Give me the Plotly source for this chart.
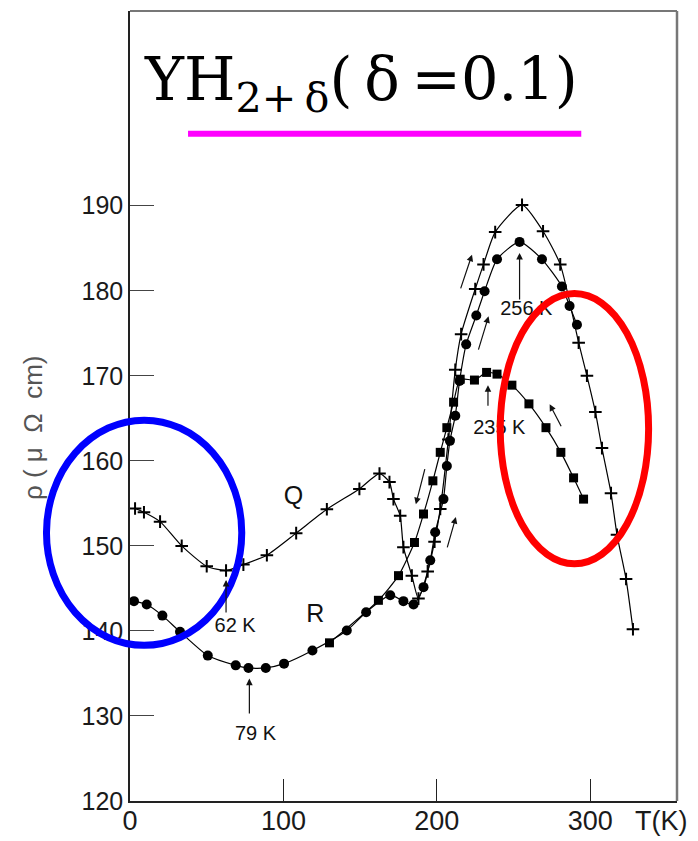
import plotly.graph_objects as go

# ---------------- data ----------------
# Q run (crosses)
q_T = [3.3, 9.1, 19.6, 33.7, 50.0, 62.6, 73.9, 89.2, 108.3, 128.3, 149.5, 162.6,
       169.1, 171.7, 176.1, 178.2, 183.7, 188.0, 194.0, 198.5, 202.2, 207.5, 212.0,
       215.8, 225.0, 230.4, 238.0, 255.5, 269.2, 280.4, 292.4, 297.8, 303.3, 307.6,
       313.5, 317.4, 323.3, 327.8]
q_rho = [154.4, 153.95, 152.85, 150.0, 147.6, 147.1, 147.8, 148.9, 151.5, 154.3, 156.7, 158.5,
         157.5, 155.5, 153.55, 149.85, 146.5, 143.8, 147.0, 150.5, 154.35, 162.5, 170.7,
         174.9, 180.2, 183.1, 186.9, 190.1, 187.0, 183.1, 173.9, 170.0, 165.75, 161.5,
         156.2, 151.3, 146.1, 140.2]

# R run (filled circles)
r_T = [2.6, 10.9, 21.1, 32.6, 50.7, 68.9, 77.2, 88.5, 100.4, 118.9, 141.3, 153.9,
       169.6, 178.2, 184.8, 191.3, 195.7, 198.9, 204.3, 206.5, 208.5, 212.0, 214.8,
       219.1, 225.7, 231.1, 239.2, 253.9, 268.5, 281.5, 286.5, 291.3]
r_rho = [143.5, 143.1, 141.8, 139.9, 137.1, 135.95, 135.65, 135.65, 136.15, 137.7, 140.05, 142.2,
         144.2, 143.5, 143.1, 145.15, 148.3, 151.6, 155.5, 159.4, 162.35, 165.3, 169.4,
         173.7, 177.1, 179.95, 183.7, 185.75, 183.7, 180.5, 178.2, 176.0]

# third run (filled squares)
s_T = [130.0, 161.9, 175.0, 185.4, 191.3, 197.4, 202.2, 206.5, 210.9, 215.2, 224.5,
       232.4, 239.2, 248.9, 260.0, 271.1, 280.8, 289.1, 295.6]
s_rho = [138.6, 143.6, 146.5, 150.4, 153.75, 157.65, 161.0, 163.9, 166.9, 169.6, 169.5,
         170.4, 170.2, 168.9, 166.7, 163.9, 161.0, 158.0, 155.5]

x_ticks = [0, 100, 200, 300]
y_ticks = [120, 130, 140, 150, 160, 170, 180, 190]

# in-plot labels
lab_text = ["Q", "R", "62 K", "79 K", "256 K", "235 K"]
lab_T = [106.5, 120.7, 68.5, 81.8, 258.3, 240.7]
lab_rho = [155.7, 141.8, 140.5, 127.8, 177.7, 163.8]
lab_size = [25, 25, 20, 20, 20, 20]

# arrows: (head T, head rho, tail T, tail rho)
arrows = [
    (62.6, 146.0, 62.6, 142.0),
    (77.8, 134.4, 77.8, 130.1),
    (253.9, 184.45, 253.9, 178.8),
    (233.3, 168.9, 233.3, 166.3),
    (222.9, 184.25, 215.2, 180.1),
    (233.7, 177.0, 226.8, 172.9),
    (186.3, 154.9, 192.4, 159.2),
    (212.4, 153.4, 206.5, 149.65),
    (273.5, 166.65, 281.5, 163.9),
]

FONT = "Liberation Sans, Arial, Helvetica, sans-serif"

fig = go.Figure()
line = dict(color="black", width=1.2, shape="spline", smoothing=0.6)

fig.add_trace(go.Scatter(x=q_T, y=q_rho, mode="lines+markers", line=line,
                         marker=dict(symbol="cross-thin", size=9,
                                     line=dict(color="black", width=2)),
                         showlegend=False, hoverinfo="skip"))
fig.add_trace(go.Scatter(x=r_T, y=r_rho, mode="lines+markers", line=line,
                         marker=dict(symbol="circle", size=10, color="black"),
                         showlegend=False, hoverinfo="skip"))
fig.add_trace(go.Scatter(x=s_T, y=s_rho, mode="lines+markers", line=line,
                         marker=dict(symbol="square", size=9, color="black"),
                         showlegend=False, hoverinfo="skip"))
fig.add_trace(go.Scatter(x=lab_T, y=lab_rho, mode="text", text=lab_text,
                         textfont=dict(family=FONT, size=lab_size, color="#111111"),
                         showlegend=False, hoverinfo="skip"))

annotations = []
for hx, hy, tx, ty in arrows:
    annotations.append(dict(x=hx, y=hy, ax=tx, ay=ty, xref="x", yref="y",
                            axref="x", ayref="y", text="", showarrow=True,
                            arrowhead=2, arrowsize=1.1, arrowwidth=1.2,
                            arrowcolor="#111111"))

# title
annotations.append(dict(text="YH<sub>2+\u2009δ</sub>(\u2009δ\u2009=0.1)", xref="paper", yref="paper",
                        x=0.022, y=0.9078, xanchor="left", yanchor="middle",
                        showarrow=False,
                        font=dict(family="DejaVu Serif, serif",
                                  size=59, color="black")))
# y axis title
annotations.append(dict(text="ρ ( μ  Ω  cm)", xref="paper", yref="paper",
                        x=-0.1774, y=0.4733, xanchor="center", yanchor="middle",
                        textangle=-90, showarrow=False,
                        font=dict(family=FONT, size=26, color="#555555")))
# x axis unit label
annotations.append(dict(text="T(K)", xref="paper", yref="paper",
                        x=0.971, y=-0.0256, xanchor="center", yanchor="middle",
                        showarrow=False,
                        font=dict(family=FONT, size=27, color="#1a1a1a")))

shapes = [
    # frame (top / right)
    dict(type="line", xref="paper", yref="paper", x0=0, x1=1, y0=1, y1=1,
         line=dict(color="#777777", width=2)),
    dict(type="line", xref="paper", yref="paper", x0=1, x1=1, y0=0, y1=1,
         line=dict(color="#777777", width=2.5)),
    # magenta underline
    dict(type="line", xref="paper", yref="paper", x0=0.1061, x1=0.825,
         y0=0.8447, y1=0.8447, line=dict(color="#FF00FF", width=6)),
    # blue ellipse
    dict(type="circle", xref="paper", yref="paper", x0=-0.1527, x1=0.2043,
         y0=0.1970, y1=0.4821, line=dict(color="#0000FF", width=7)),
    # red ellipse
    dict(type="circle", xref="paper", yref="paper", x0=0.6768, x1=0.9481,
         y0=0.3002, y1=0.6423, line=dict(color="#FF0000", width=7)),
]

fig.update_layout(
    width=698, height=847,
    margin=dict(l=130, r=21, t=11, b=38.6),
    paper_bgcolor="white", plot_bgcolor="white",
    annotations=annotations, shapes=shapes,
    xaxis=dict(range=[0, 356.5], tickvals=x_ticks, ticks="inside", ticklen=22,
               tickwidth=1.3, tickcolor="#222222", showgrid=False, zeroline=False,
               showline=True, linecolor="#222222", linewidth=1.5,
               ticklabelstandoff=-5,
               tickfont=dict(family=FONT, size=27, color="#1a1a1a")),
    yaxis=dict(range=[120, 212.9], tickvals=y_ticks, ticks="inside", ticklen=24,
               tickwidth=1.3, tickcolor="#444444", showgrid=False, zeroline=False,
               showline=True, linecolor="#222222", linewidth=1.5,
               tickfont=dict(family=FONT, size=25, color="#1a1a1a")),
)

# pin the figure to the page's top-left corner so the page is exactly the figure
page_js = ("document.documentElement.style.overflow='hidden';"
           "document.body.style.margin='0px';"
           "document.body.style.overflow='hidden';"
           "var g=document.getElementById('{plot_id}');"
           "g.style.position='fixed';g.style.left='0px';g.style.top='0px';")

fig.write_html("out.html", post_script=page_js, config={"displayModeBar": False})
